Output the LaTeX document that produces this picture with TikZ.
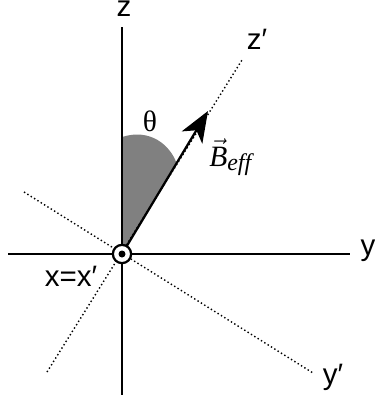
\documentclass[tikz,border=0pt]{standalone}
\usepackage{fontspec}
\setmainfont{Liberation Serif}
\newfontfamily\axisfont{Liberation Sans}
\usepackage{tikz}
\usetikzlibrary{arrows.meta,positioning}

\begin{document}
\begin{tikzpicture}[x=0.025cm,y=-0.025cm,
  axis/.style={line width=1.6pt},
  primeaxis/.style={line width=1pt,dash pattern=on 1pt off 1.8pt},
  axislabel/.style={font=\axisfont\fontsize{21}{24}\selectfont,inner sep=0pt},
  greeklabel/.style={font=\fontsize{21}{24}\selectfont,inner sep=0pt}]
\useasboundingbox (0,0) rectangle (375,402);
% axes
\coordinate (o) at (122,254);
\coordinate (zt) at (122,27);
\coordinate (zb) at (122,395);
\coordinate (yl) at (8,254);
\coordinate (yr) at (350,254);
\coordinate (ypl) at (24,192);
\coordinate (ypr) at (313,373);
\coordinate (zpb) at (47,372);
\coordinate (zpt) at (242,60);
\coordinate (btip) at (208,111);
% angle
\fill[black!50] (o) -- (122,137) .. controls (150,128) and (170,145) .. (176.5,163) -- cycle;
\draw[axis] (zt) -- (zb);
\draw[axis] (yl) -- (yr);
\draw[primeaxis] (ypl) -- (ypr);
\draw[primeaxis] (zpb) -- (zpt);
\draw[line width=1.6pt,-{Stealth[length=22pt,width=17pt,inset=6pt]}] (o) -- (btip);
% x axis out of the page
\node[circle,draw,line width=1.6pt,fill=white,inner sep=0pt,minimum size=13pt] (xdot) at (o) {};
\fill (xdot.center) circle (3.5);
% labels
\node[axislabel] (zlab) at (124,9) {z};
\node[axislabel] (zplab) at (257,39) {z′};
\node[axislabel] (ylab) at (368,251) {y};
\node[axislabel] (yplab) at (333,377) {y′};
\node[axislabel] (xlab) at (71,276) {x=x′};
\node[greeklabel] (thlab) at (150,121) {θ};
\node[greeklabel,anchor=west] (blab) at (209,157) {$\vec{\mbox{\itshape B}}\mbox{\raisebox{-3pt}{\fontsize{17}{18}\selectfont\itshape eff}}$};
\end{tikzpicture}
\end{document}
